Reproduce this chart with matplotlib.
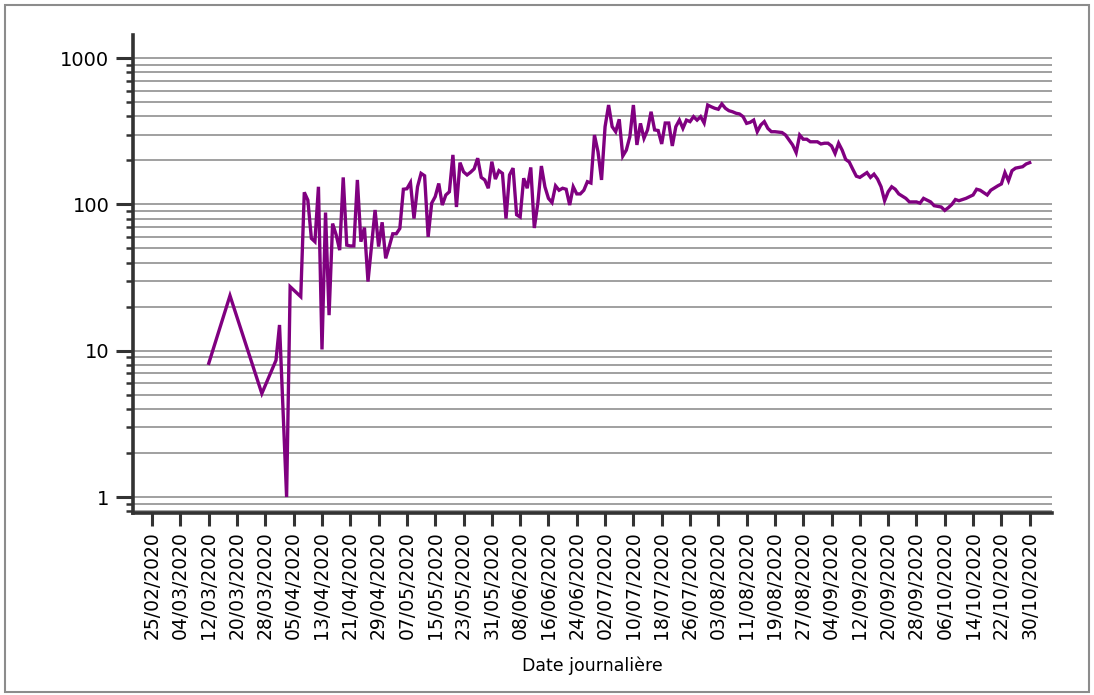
import pandas as pd
import numpy as np
import matplotlib
matplotlib.use("Agg")
import matplotlib.pyplot as plt
import matplotlib.dates as mdates
from matplotlib.ticker import LogLocator, NullFormatter, FixedLocator, FixedFormatter
from matplotlib.patches import Rectangle

# =====================================
# DATA
# =====================================

dates = [
    "12/03", "18/03", "27/03", "31/03", "01/04", "03/04", "04/04", "07/04",
    "08/04", "09/04", "10/04", "11/04", "12/04", "13/04", "14/04", "15/04",
    "16/04", "17/04", "18/04", "19/04", "20/04", "21/04", "22/04", "23/04",
    "24/04", "25/04", "26/04", "28/04", "29/04", "30/04", "01/05", "02/05",
    "03/05", "04/05", "05/05", "06/05", "07/05", "08/05", "09/05", "10/05",
    "11/05", "12/05", "13/05", "14/05", "15/05", "16/05", "17/05", "18/05",
    "19/05", "20/05", "21/05", "22/05", "23/05", "24/05", "25/05", "26/05",
    "27/05", "28/05", "29/05", "30/05", "31/05", "01/06", "02/06", "03/06",
    "04/06", "05/06", "06/06", "07/06", "08/06", "09/06", "10/06", "11/06",
    "12/06", "13/06", "14/06", "15/06", "16/06", "17/06", "18/06", "19/06",
    "20/06", "21/06", "22/06", "23/06", "24/06", "25/06", "26/06", "27/06",
    "28/06", "29/06", "30/06", "01/07", "02/07", "03/07", "04/07", "05/07",
    "06/07", "07/07", "08/07", "09/07", "10/07", "11/07", "12/07", "13/07",
    "14/07", "15/07", "16/07", "17/07", "18/07", "19/07", "20/07", "21/07",
    "22/07", "23/07", "24/07", "25/07", "26/07", "27/07", "28/07", "29/07",
    "30/07", "31/07", "01/08", "02/08", "03/08", "04/08", "05/08", "06/08",
    "07/08", "08/08", "09/08", "10/08", "11/08", "12/08", "13/08", "14/08",
    "15/08", "16/08", "17/08", "18/08", "19/08", "21/08", "22/08", "23/08",
    "24/08", "25/08", "26/08", "27/08", "28/08", "29/08", "31/08", "01/09",
    "02/09", "03/09", "04/09", "05/09", "06/09", "07/09", "08/09", "09/09",
    "10/09", "11/09", "12/09", "14/09", "15/09", "16/09", "17/09", "18/09",
    "19/09", "20/09", "21/09", "22/09", "23/09", "25/09", "26/09", "28/09",
    "29/09", "30/09", "02/10", "03/10", "05/10", "06/10", "07/10", "08/10",
    "09/10", "10/10", "12/10", "13/10", "14/10", "15/10", "16/10", "18/10",
    "19/10", "21/10", "22/10", "23/10", "24/10", "25/10", "26/10", "28/10",
    "29/10", "30/10",
]

values = [
    8.2, 23.8, 5.1, 8.6, 15, 1, 27.4, 23.4,
    121, 107, 58.6, 55.6, 132, 10.2, 88, 17.5,
    74, 62, 48.7, 153, 52.7, 52, 52, 147,
    55.6, 69.5, 29.7, 91.6, 51.5, 75.5, 42.8, 51.5,
    63, 63, 68.5, 127, 128, 141, 80, 132,
    163, 157, 60, 102, 113, 139, 99, 116,
    122, 218, 96, 193, 167, 159, 166, 175,
    207, 153, 147, 129, 196, 149, 170, 163,
    80, 159, 177, 85, 82, 151, 129, 179,
    69, 102, 183, 132, 110, 103, 134, 125,
    129, 127, 99, 132, 118, 118, 125, 143,
    140, 298, 229, 147, 340, 478, 340, 314,
    382, 214, 235, 290, 478, 255, 358, 283,
    323, 430, 323, 320, 259, 360, 360, 251,
    340, 377, 331, 377, 368, 398, 377, 398,
    360, 478, 465, 454, 447, 486, 454, 437,
    430, 420, 415, 398, 358, 364, 377, 314,
    349, 368, 331, 314, 314, 310, 298, 276,
    255, 226, 298, 279, 279, 268, 268, 259,
    262, 262, 251, 223, 262, 235, 203, 195,
    174, 156, 153, 165, 153, 161, 149, 132,
    106, 122, 132, 127, 118, 110, 104, 104,
    102, 110, 104, 98, 96, 91, 95, 100,
    108, 106, 110, 113, 116, 127, 125, 116,
    125, 134, 138, 165, 145, 170, 177, 181,
    189, 193,
]

x = pd.to_datetime([d + "/2020" for d in dates], format="%d/%m/%Y")

tick_dates = pd.date_range("2020-02-25", "2020-10-30", freq="8D")
y_ticks = [1, 10, 100, 1000]
y_labels = ["1", "10", "100", "1000"]

# =====================================
# PLOT
# =====================================

fig = plt.figure(figsize=(10.94, 6.95), dpi=100)
ax = fig.add_axes([0.1216, 0.2619, 0.84, 0.6877])

# outer frame
fig.patches.append(Rectangle((0.005, 0.005), 0.99, 0.988, transform=fig.transFigure,
                             fill=False, edgecolor="#8c8c8c", linewidth=1.5))

ax.plot(x, values, color="#800080", linewidth=2.4, solid_joinstyle="miter")

ax.set_yscale("log")
ax.set_ylim(0.778, 1438)
ax.yaxis.set_major_locator(FixedLocator(y_ticks))
ax.yaxis.set_major_formatter(FixedFormatter(y_labels))
ax.yaxis.set_minor_locator(LogLocator(base=10, subs=np.arange(2, 10)))
ax.yaxis.set_minor_formatter(NullFormatter())

ax.set_xlim(pd.Timestamp("2020-02-25") - pd.Timedelta(days=5.4),
            pd.Timestamp("2020-02-25") + pd.Timedelta(days=254.3))
ax.set_xticks(tick_dates)
ax.xaxis.set_major_formatter(mdates.DateFormatter("%d/%m/%Y"))
plt.setp(ax.get_xticklabels(), rotation=90)

ax.grid(True, which="both", axis="y", color="#a0a0a0", linewidth=1.4)
ax.set_axisbelow(True)

for side in ["top", "right"]:
    ax.spines[side].set_visible(False)
for side in ["left", "bottom"]:
    ax.spines[side].set_color("#333333")
    ax.spines[side].set_linewidth(2.6)

ax.tick_params(axis="y", which="major", length=12, width=2.2, color="#333333",
               labelsize=14, pad=5)
ax.tick_params(axis="y", which="minor", length=5, width=1.8, color="#333333")
ax.tick_params(axis="x", which="major", length=9, width=2.2, color="#333333",
               labelsize=13.5, pad=4)

ax.set_xlabel("Date journalière", fontsize=12.5, labelpad=13)

plt.savefig("out.png", dpi=100)
